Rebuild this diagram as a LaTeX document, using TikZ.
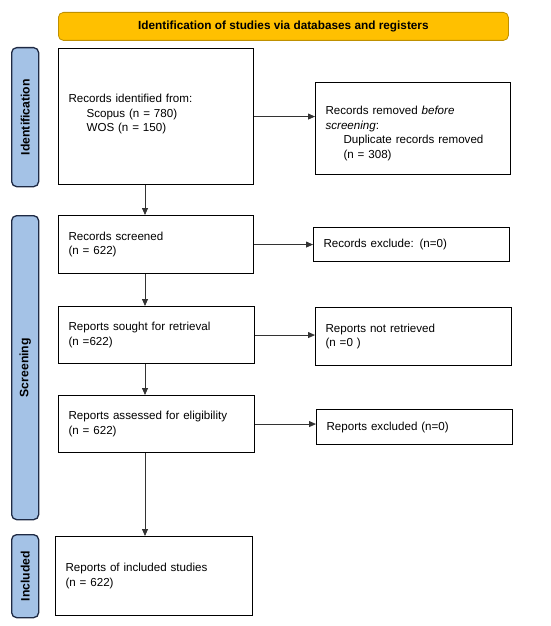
\documentclass[tikz,border=0pt]{standalone}
\usepackage{fontspec}
\setmainfont{Liberation Sans}
\usetikzlibrary{arrows.meta,calc}
\definecolor{bannerfill}{HTML}{FFC000}
\definecolor{bannerline}{HTML}{BF9000}
\definecolor{sidefill}{HTML}{A4C2E6}
\definecolor{sideline}{HTML}{1F2A44}
\definecolor{arrowcol}{HTML}{333333}
\tikzset{
  flowbox/.style={draw=black, line width=1.1pt, fill=white, align=left, anchor=north west,
    inner xsep=0pt, inner ysep=0pt, font=\fontsize{11.6}{14.5}\selectfont},
  sidebar/.style={draw=sideline, line width=1.3pt, fill=sidefill, rounded corners=5pt, anchor=north west,
    inner sep=0pt},
  sidelabel/.style={rotate=90, font=\bfseries\fontsize{12.2}{14}\selectfont, text=black},
  banner/.style={draw=bannerline, line width=0.8pt, fill=bannerfill, rounded corners=5pt, anchor=north west,
    inner sep=0pt, font=\bfseries\fontsize{11.8}{14}\selectfont},
  flowarrow/.style={draw=arrowcol, line width=0.8pt, -{Triangle[length=7pt,width=6pt]}}
}
\begin{document}
\begin{tikzpicture}[x=1pt,y=-1pt]
\useasboundingbox (0,0) rectangle (550,626);
% banner
\node[banner, minimum width=450pt, minimum height=28pt] (ban) at (58,12) {Identification of studies via databases and registers};
% side bars
\node[sidebar, minimum width=27pt, minimum height=139pt] (sid) at (11,47) {};
\node[sidelabel] (sidt) at (sid.center) {Identification};
\node[sidebar, minimum width=27pt, minimum height=304pt] (ssc) at (11,215) {};
\node[sidelabel] (ssct) at (ssc.center) {Screening};
\node[sidebar, minimum width=27pt, minimum height=83pt] (sin) at (11,534) {};
\node[sidelabel] (sint) at (sin.center) {Included};
% boxes
\node[flowbox, minimum width=195pt, minimum height=136pt, text width=175pt] (ident) at (58,48)
  {Records identified from:\\\hspace*{18pt}Scopus (n = 780)\\\hspace*{18pt}WOS (n = 150)\\[-7pt]\mbox{}};
\node[flowbox, minimum width=195pt, minimum height=92pt, text width=175pt] (rem) at (315,82)
  {\rule{0pt}{18pt}Records removed \textit{before}\\\textit{screening}:\\\hspace*{18pt}Duplicate records removed\\\hspace*{18pt}(n = 308)};
\node[flowbox, minimum width=195pt, minimum height=58pt, text width=175pt] (scr) at (58,215)
  {Records screened\\(n = 622)};
\node[flowbox, minimum width=196pt, minimum height=34pt, text width=176pt] (exc) at (313,227)
  {Records exclude: (n=0)};
\node[flowbox, minimum width=196pt, minimum height=57pt, text width=176pt] (sou) at (58,306)
  {Reports sought for retrieval\\(n =622)};
\node[flowbox, minimum width=196pt, minimum height=58pt, text width=176pt] (nre) at (315,307)
  {Reports not retrieved\\(n =0 )};
\node[flowbox, minimum width=196pt, minimum height=57pt, text width=176pt] (ass) at (58,395)
  {Reports assessed for eligibility\\(n = 622)};
\node[flowbox, minimum width=196pt, minimum height=35pt, text width=176pt] (rex) at (316,409)
  {Reports excluded (n=0)};
\node[flowbox, minimum width=197pt, minimum height=79pt, text width=177pt] (inc) at (55,536)
  {Reports of included studies\\(n = 622)};
% arrows
\coordinate (ax) at (145,0);
\draw[flowarrow] (ident.east) -- (ident.east -| rem.west);
\draw[flowarrow] (scr.east) -- (scr.east -| exc.west);
\draw[flowarrow] (sou.east) -- (sou.east -| nre.west);
\draw[flowarrow] (ass.east) -- (ass.east -| rex.west);
\draw[flowarrow] (ax |- ident.south) -- (ax |- scr.north);
\draw[flowarrow] (ax |- scr.south) -- (ax |- sou.north);
\draw[flowarrow] (ax |- sou.south) -- (ax |- ass.north);
\draw[flowarrow] (ax |- ass.south) -- (ax |- inc.north);
\end{tikzpicture}
\end{document}
